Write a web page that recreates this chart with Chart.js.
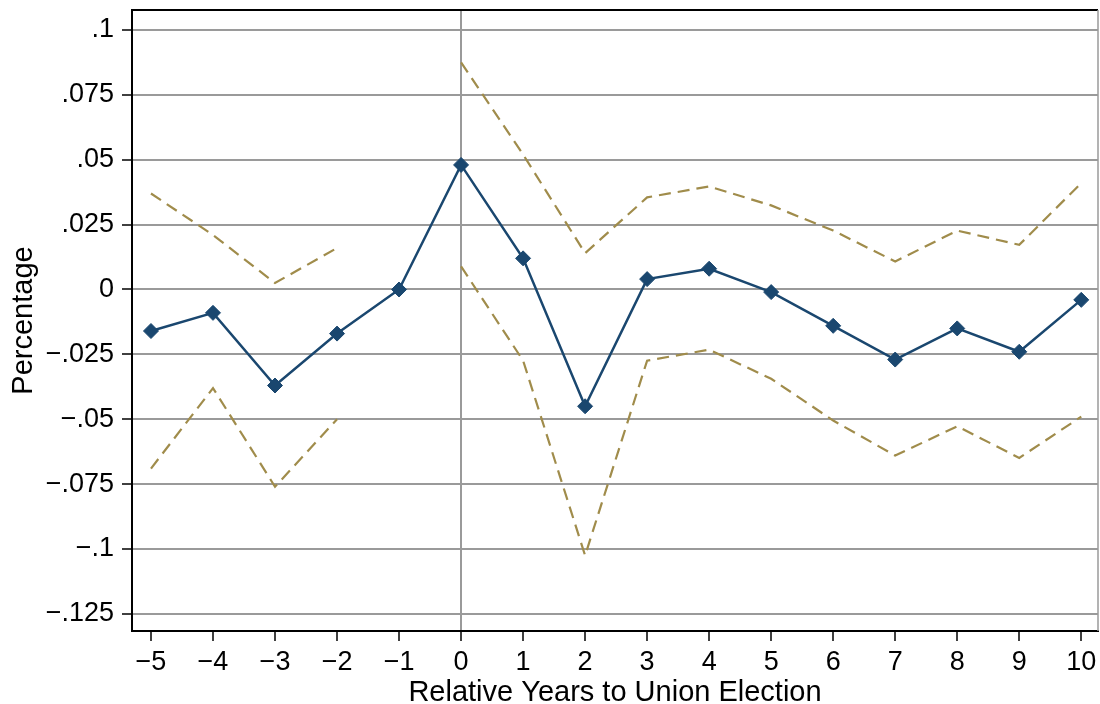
<!DOCTYPE html>
<html>
<head>
<meta charset="utf-8">
<script src="https://cdn.jsdelivr.net/npm/chart.js@4.4.1/dist/chart.umd.min.js"></script>
<style>
  html, body { margin: 0; padding: 0; background: #ffffff; }
  #wrap { width: 1100px; height: 704px; }
</style>
</head>
<body>
<div id="wrap"><canvas id="c" width="1100" height="704"></canvas></div>
<script>
// Relative years to the union election
const years = [-5, -4, -3, -2, -1, 0, 1, 2, 3, 4, 5, 6, 7, 8, 9, 10];
// Point estimates (year -1 is the reference year)
const estimate = [-0.016, -0.009, -0.037, -0.017, 0.000, 0.048, 0.012, -0.045, 0.004, 0.008, -0.001, -0.014, -0.027, -0.015, -0.024, -0.004];
// Confidence bounds (none for the reference year)
const upperCI = [0.037, 0.021, 0.0025, 0.016, null, 0.0875, 0.052, 0.014, 0.0355, 0.0397, 0.0324, 0.0227, 0.0108, 0.0227, 0.0172, 0.041];
const lowerCI = [-0.069, -0.038, -0.076, -0.050, null, 0.0089, -0.0274, -0.1025, -0.0274, -0.0232, -0.0344, -0.0505, -0.064, -0.0527, -0.0649, -0.049];
// Axis ticks and labels
const yTickValues = [0.1, 0.075, 0.05, 0.025, 0, -0.025, -0.05, -0.075, -0.1, -0.125];
const yTickLabels = ['.1', '.075', '.05', '.025', '0', '\u2212.025', '\u2212.05', '\u2212.075', '\u2212.1', '\u2212.125'];
const xTickLabels = ['\u22125', '\u22124', '\u22123', '\u22122', '\u22121', '0', '1', '2', '3', '4', '5', '6', '7', '8', '9', '10'];

const navy = '#1a476f';
const khaki = '#a08c4b';
const gridGrey = '#9a9a9a';
const family = '"Liberation Sans", Arial, sans-serif';
const tickFont = { family: family, size: 27 };
const titleFont = { family: family, size: 29, lineHeight: 1 };

const toPoints = vals => years.map((x, i) => ({ x: x, y: vals[i] }));

// Outline for the top (black) and right (grey) edges of the plot region
const frame = {
  id: 'frame',
  afterDraw(chart) {
    const { ctx, chartArea: a } = chart;
    ctx.save();
    ctx.lineWidth = 2;
    ctx.strokeStyle = '#000000';
    ctx.beginPath();
    ctx.moveTo(a.left, a.top);
    ctx.lineTo(a.right, a.top);
    ctx.stroke();
    ctx.lineWidth = 1.5;
    ctx.strokeStyle = gridGrey;
    ctx.beginPath();
    ctx.moveTo(a.right, a.top);
    ctx.lineTo(a.right, a.bottom);
    ctx.stroke();
    ctx.restore();
  }
};

new Chart(document.getElementById('c'), {
  type: 'line',
  data: {
    datasets: [
      {
        label: 'Upper bound',
        data: toPoints(upperCI),
        borderColor: khaki,
        borderWidth: 2.2,
        borderDash: [12, 7],
        pointRadius: 0,
        spanGaps: false,
        tension: 0,
        order: 2
      },
      {
        label: 'Lower bound',
        data: toPoints(lowerCI),
        borderColor: khaki,
        borderWidth: 2.2,
        borderDash: [12, 7],
        pointRadius: 0,
        spanGaps: false,
        tension: 0,
        order: 2
      },
      {
        label: 'Estimate',
        data: toPoints(estimate),
        borderColor: navy,
        backgroundColor: navy,
        borderWidth: 2.5,
        pointStyle: 'rectRot',
        pointRadius: 7.5,
        pointBorderWidth: 1,
        pointBackgroundColor: navy,
        pointBorderColor: navy,
        tension: 0,
        order: 1
      }
    ]
  },
  options: {
    responsive: false,
    animation: false,
    devicePixelRatio: 1,
    layout: { autoPadding: false, padding: { top: 10, right: 2, left: 0, bottom: 0 } },
    plugins: {
      legend: { display: false },
      tooltip: { enabled: false }
    },
    scales: {
      x: {
        type: 'linear',
        min: -5.306,
        max: 10.27,
        afterBuildTicks: s => { s.ticks = years.map(v => ({ value: v })); },
        afterFit: s => { s.height = 73; s.paddingLeft = 0; s.paddingRight = 0; },
        ticks: {
          autoSkip: false,
          maxRotation: 0,
          color: '#000000',
          font: tickFont,
          padding: 5,
          callback: (v) => xTickLabels[years.indexOf(v)]
        },
        grid: {
          drawOnChartArea: true,
          color: ctx => (ctx.tick && ctx.tick.value === 0 ? gridGrey : 'rgba(0,0,0,0)'),
          lineWidth: 2,
          tickLength: 10,
          tickColor: '#000000',
          tickWidth: 1.5
        },
        border: { display: true, color: '#000000', width: 2 },
        title: {
          display: true,
          text: 'Relative Years to Union Election',
          color: '#000000',
          font: titleFont,
          padding: { top: 0, bottom: -3 }
        }
      },
      y: {
        type: 'linear',
        min: -0.1316,
        max: 0.1077,
        afterBuildTicks: s => { s.ticks = yTickValues.map(v => ({ value: v })); },
        afterFit: s => { s.width = 132; s.paddingTop = 0; s.paddingBottom = 0; },
        ticks: {
          autoSkip: false,
          color: '#000000',
          font: tickFont,
          padding: 8,
          callback: (v) => yTickLabels[yTickValues.indexOf(v)]
        },
        grid: {
          drawOnChartArea: true,
          color: gridGrey,
          lineWidth: 2,
          tickLength: 10,
          tickColor: '#000000',
          tickWidth: 1.5
        },
        border: { display: true, color: '#000000', width: 2 },
        title: {
          display: true,
          text: 'Percentage',
          color: '#000000',
          font: titleFont,
          padding: { top: 9, bottom: 0 }
        }
      }
    }
  },
  plugins: [frame]
});
</script>
</body>
</html>
